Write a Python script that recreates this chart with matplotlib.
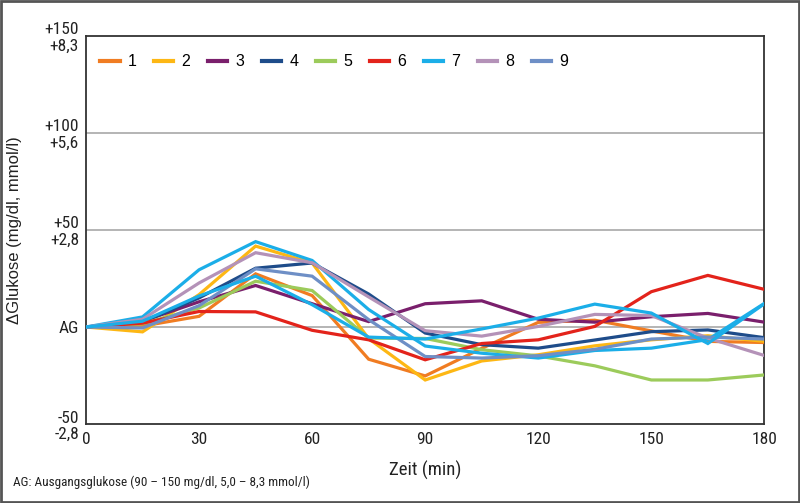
import matplotlib
matplotlib.use("Agg")
import matplotlib.pyplot as plt
from matplotlib.patches import Rectangle

# ---- data ----
time_min = [0, 15, 30, 45, 60, 75, 90, 105, 120, 135, 150, 165, 180]
s1 = [0, 0.5, 5.5, 27.4, 16.2, -16.6, -25.2, -11, 2.4, 3.5, -2, -7.4, -8]
s2 = [0, -2.5, 16.7, 41.7, 33, -6, -27.3, -17.5, -14.3, -9.7, -6.6, -4.5, -7.4]
s3 = [0, 3, 13, 21.4, 12, 2.8, 12, 13.5, 4, 2.5, 5.3, 7, 2.5]
s4 = [0, 2.5, 15, 30.3, 33, 17, -3.1, -9.1, -10.9, -6.7, -2.4, -1.5, -5.5]
s5 = [0, 1.7, 9.8, 23.6, 18.8, -5.7, -5.9, -11.7, -14.9, -20, -27.3, -27.3, -24.7]
s6 = [0, 2, 8, 7.8, -1.7, -6.6, -16.9, -8.5, -6.6, 0.3, 18.2, 26.6, 19.4]
s7 = [0, 5.2, 29.5, 44, 34.3, 9, -9.8, -13.5, -16, -12.1, -10.9, -6.5, 12.2]
s7b = [0, 3, 16, 26.2, 11.5, -5.2, -6.2, -1, 4.6, 11.8, 7.2, -8.5, 12]
s8 = [0, 4, 22.7, 38.3, 33.1, 15.5, -1.9, -4.7, 0.3, 6.5, 5.9, -5.7, -14.7]
s9 = [0, -0.5, 11, 30, 26.2, 3.8, -15.2, -16, -14.8, -11.5, -6.2, -5.2, -6.2]

series_labels = ["1", "2", "3", "4", "5", "6", "7", "8", "9"]
series_values = [s1, s2, s3, s4, s5, s6, s7, s8, s9]
colors = ["#F07C22", "#FDB714", "#7A1F6C", "#1E4C8A", "#9CCB5B",
          "#E3231B", "#1BAEE8", "#B492B8", "#6E8FC6"]

ytick_vals = [-50, 0, 50, 100, 150]
ytick_labels = ["-50\n-2,8", "AG", "+50\n+2,8", "+100\n+5,6", "+150\n+8,3"]
xtick_vals = [0, 30, 60, 90, 120, 150, 180]

cond = ["Roboto Condensed", "Roboto", "DejaVu Sans"]
reg = ["Liberation Sans", "DejaVu Sans"]
ST = "condensed"

fig = plt.figure(figsize=(8.0, 5.03), dpi=100)
ax = fig.add_axes([0.1075, 0.157, 0.848, 0.7715])

lw = 2.3
for lab, vals, c in zip(series_labels, series_values, colors):
    ax.plot(time_min, vals, color=c, lw=lw, label=lab, solid_joinstyle="miter", zorder=3)
ax.plot(time_min, s7b, color=colors[6], lw=lw, solid_joinstyle="miter", zorder=3)

ax.set_xlim(0, 180)
ax.set_ylim(-50, 150)
for g in [0, 50, 100]:
    ax.axhline(g, color="#A8A8A8", lw=1.2, zorder=1)

ax.set_xticks(xtick_vals)
ax.set_xticklabels([str(v) for v in xtick_vals], family=cond, stretch=ST, fontsize=12.5, color="#222")
ax.set_yticks(ytick_vals)
ax.set_yticklabels(ytick_labels, family=cond, stretch=ST, fontsize=12.5, color="#222", linespacing=1.1)
ax.tick_params(length=0, pad=5)
ax.tick_params(axis="x", pad=6)

for sp in ax.spines.values():
    sp.set_color("#333333")
    sp.set_linewidth(1.3)

ax.set_xlabel("Zeit (min)", family=cond, stretch=ST, fontsize=13.5, color="#222", labelpad=10)
ax.set_ylabel("\u0394Glukose (mg/dl, mmol/l)", family=reg, fontsize=12, color="#222", labelpad=16)

leg = ax.legend(loc="upper left", ncol=9, frameon=False, handlelength=1.2,
                columnspacing=1.12, handletextpad=0.5, bbox_to_anchor=(0.0, 0.99),
                prop={"family": reg, "size": 11.5})
for line in leg.get_lines():
    line.set_linewidth(3)

fig.text(0.016, 0.042, "AG: Ausgangsglukose (90 \u2013 150 mg/dl, 5,0 \u2013 8,3 mmol/l)",
         family=cond, stretch=ST, fontsize=9.5, color="#222", ha="left", va="center")

fig.patches.append(Rectangle((0.001, 0.001), 0.998, 0.997, transform=fig.transFigure,
                             fill=False, edgecolor="#555555", lw=2))

fig.savefig("out.png", dpi=100)
